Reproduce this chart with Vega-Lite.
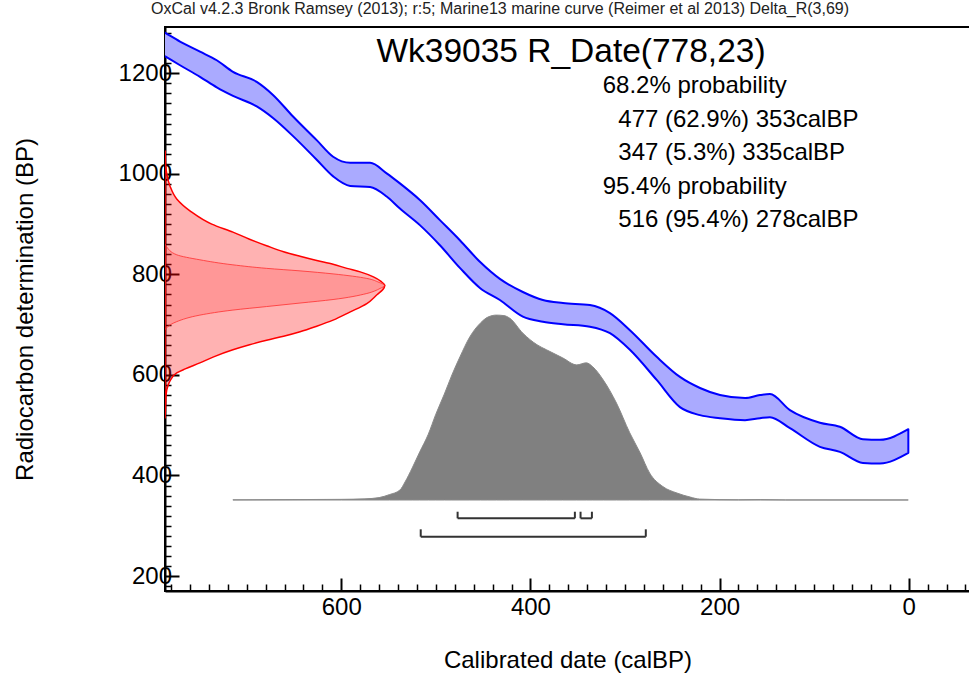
{
  "$schema": "https://vega.github.io/schema/vega-lite/v6.json",
  "width": 805,
  "height": 564,
  "autosize": {"type": "none"},
  "padding": {"left": 165, "top": 27, "right": 0, "bottom": 84},
  "background": "white",
  "title": {
    "text": "OxCal v4.2.3 Bronk Ramsey (2013); r:5; Marine13 marine curve (Reimer et al 2013) Delta_R(3,69)",
    "anchor": "start", "frame": "group", "font": "Liberation Sans Narrow, Liberation Sans", "fontSize": 16,
    "fontWeight": "normal", "color": "#222222", "offset": 4, "dx": -14
  },
  "config": {
    "view": {"stroke": "black", "strokeWidth": 2},
    "font": "Liberation Sans",
    "axis": {"labelFont": "Liberation Sans", "titleFont": "Liberation Sans", "zindex": 1},
    "text": {"font": "Liberation Sans", "color": "black", "align": "left", "baseline": "alphabetic", "fontSize": 24}
  },
  "datasets": {
    "curve": [
      {"cal": 800, "hi": 1296, "lo": 1249},
      {"cal": 785.7, "hi": 1280, "lo": 1233},
      {"cal": 770.5, "hi": 1263, "lo": 1216},
      {"cal": 749.4, "hi": 1243, "lo": 1193},
      {"cal": 731.7, "hi": 1226, "lo": 1172},
      {"cal": 714.5, "hi": 1203, "lo": 1155},
      {"cal": 689.4, "hi": 1183, "lo": 1134},
      {"cal": 672.2, "hi": 1157, "lo": 1111},
      {"cal": 651, "hi": 1114, "lo": 1075},
      {"cal": 626, "hi": 1067, "lo": 1028},
      {"cal": 608.6, "hi": 1034, "lo": 995},
      {"cal": 590.6, "hi": 1022, "lo": 976},
      {"cal": 569.5, "hi": 1022, "lo": 974},
      {"cal": 552, "hi": 1001, "lo": 955},
      {"cal": 538, "hi": 981, "lo": 931},
      {"cal": 516.9, "hi": 948, "lo": 898},
      {"cal": 495.7, "hi": 908, "lo": 858},
      {"cal": 474.6, "hi": 868, "lo": 813},
      {"cal": 453.4, "hi": 825, "lo": 773},
      {"cal": 432.3, "hi": 791, "lo": 749},
      {"cal": 408, "hi": 765, "lo": 716},
      {"cal": 386.8, "hi": 749, "lo": 706},
      {"cal": 365.6, "hi": 743, "lo": 701},
      {"cal": 337.1, "hi": 739, "lo": 696},
      {"cal": 315.9, "hi": 723, "lo": 683},
      {"cal": 294.8, "hi": 689, "lo": 650},
      {"cal": 266.5, "hi": 636, "lo": 590},
      {"cal": 241.9, "hi": 596, "lo": 536},
      {"cal": 220.7, "hi": 574, "lo": 520},
      {"cal": 199.6, "hi": 560, "lo": 514},
      {"cal": 173.1, "hi": 554, "lo": 510},
      {"cal": 157.3, "hi": 560, "lo": 514},
      {"cal": 146.7, "hi": 562, "lo": 516},
      {"cal": 125.6, "hi": 530, "lo": 494},
      {"cal": 93.9, "hi": 505, "lo": 457},
      {"cal": 72.8, "hi": 497, "lo": 447},
      {"cal": 48.4, "hi": 472, "lo": 425},
      {"cal": 30.4, "hi": 471, "lo": 424},
      {"cal": 0.4, "hi": 492, "lo": 445}
    ],
    "c14outer": [
      {"bp": 515, "cal": 786.3},
      {"bp": 537, "cal": 785.8},
      {"bp": 560, "cal": 785.3},
      {"bp": 580, "cal": 783},
      {"bp": 590, "cal": 780.5},
      {"bp": 604, "cal": 774},
      {"bp": 612, "cal": 765},
      {"bp": 624, "cal": 749.5},
      {"bp": 636, "cal": 735},
      {"bp": 650, "cal": 714.6},
      {"bp": 660, "cal": 697},
      {"bp": 669, "cal": 679},
      {"bp": 677, "cal": 661},
      {"bp": 686, "cal": 643.6},
      {"bp": 697, "cal": 626},
      {"bp": 709, "cal": 608.7},
      {"bp": 725, "cal": 591},
      {"bp": 742, "cal": 573},
      {"bp": 760, "cal": 562},
      {"bp": 770, "cal": 556},
      {"bp": 778, "cal": 554},
      {"bp": 786, "cal": 558},
      {"bp": 795, "cal": 566},
      {"bp": 805, "cal": 580},
      {"bp": 812, "cal": 594},
      {"bp": 820, "cal": 608.7},
      {"bp": 828, "cal": 627},
      {"bp": 836, "cal": 643.6},
      {"bp": 845, "cal": 661},
      {"bp": 857, "cal": 679},
      {"bp": 870, "cal": 697},
      {"bp": 884, "cal": 714.6},
      {"bp": 900, "cal": 737},
      {"bp": 925, "cal": 759},
      {"bp": 950, "cal": 774},
      {"bp": 975, "cal": 781},
      {"bp": 1000, "cal": 784.5},
      {"bp": 1020, "cal": 785.8},
      {"bp": 1045, "cal": 786.2}
    ],
    "c14inner": [
      {"bp": 690, "cal": 786.3},
      {"bp": 696, "cal": 783.5},
      {"bp": 706, "cal": 774},
      {"bp": 719, "cal": 749.5},
      {"bp": 729, "cal": 714.6},
      {"bp": 736, "cal": 679},
      {"bp": 743, "cal": 643.6},
      {"bp": 750, "cal": 608.7},
      {"bp": 762, "cal": 573},
      {"bp": 772, "cal": 559},
      {"bp": 778, "cal": 554},
      {"bp": 784, "cal": 560},
      {"bp": 792, "cal": 573},
      {"bp": 801, "cal": 608.7},
      {"bp": 807, "cal": 643.6},
      {"bp": 812, "cal": 679},
      {"bp": 819, "cal": 714.6},
      {"bp": 829, "cal": 749.5},
      {"bp": 839, "cal": 774},
      {"bp": 855, "cal": 784.7},
      {"bp": 860, "cal": 786.3}
    ],
    "post": [
      {"cal": 714.6, "bp": 351.5},
      {"cal": 650, "bp": 352},
      {"cal": 600, "bp": 352.5},
      {"cal": 575, "bp": 353.5},
      {"cal": 560, "bp": 356},
      {"cal": 549, "bp": 362},
      {"cal": 538, "bp": 371},
      {"cal": 532.6, "bp": 387},
      {"cal": 525, "bp": 415},
      {"cal": 517, "bp": 447},
      {"cal": 508, "bp": 482},
      {"cal": 500, "bp": 522},
      {"cal": 491, "bp": 562},
      {"cal": 483, "bp": 600},
      {"cal": 474.5, "bp": 636},
      {"cal": 464, "bp": 676},
      {"cal": 453, "bp": 703},
      {"cal": 445, "bp": 715},
      {"cal": 436, "bp": 719},
      {"cal": 428, "bp": 718},
      {"cal": 422, "bp": 713},
      {"cal": 408, "bp": 683},
      {"cal": 393, "bp": 660},
      {"cal": 383, "bp": 650},
      {"cal": 366, "bp": 634},
      {"cal": 351, "bp": 620},
      {"cal": 341, "bp": 624},
      {"cal": 334, "bp": 616},
      {"cal": 323, "bp": 590},
      {"cal": 309, "bp": 544},
      {"cal": 295, "bp": 485},
      {"cal": 284, "bp": 445},
      {"cal": 274, "bp": 405},
      {"cal": 260, "bp": 378},
      {"cal": 245, "bp": 365},
      {"cal": 231, "bp": 357},
      {"cal": 221, "bp": 353},
      {"cal": 180, "bp": 351.6},
      {"cal": 157, "bp": 352},
      {"cal": 130, "bp": 351.4},
      {"cal": 0.5, "bp": 351.3}
    ],
    "ranges": [
      {"prob": 68.2, "from": 477, "to": 353},
      {"prob": 68.2, "from": 347, "to": 335},
      {"prob": 95.4, "from": 516, "to": 278}
    ]
  },
  "layer": [
    {
      "data": {"name": "curve"},
      "mark": {"type": "area", "interpolate": "monotone", "fill": "#aaaaff", "stroke": "#0000ff", "strokeWidth": 2, "clip": true, "strokeJoin": "round"},
      "encoding": {
        "x": {
          "field": "cal", "type": "quantitative",
          "scale": {"domain": [786.4, -64.8], "nice": false, "zero": false},
          "axis": {
            "title": "Calibrated date (calBP)",
            "values": [-60,-40,-20,0,20,40,60,80,100,120,140,160,180,200,220,240,260,280,300,320,340,360,380,400,420,440,460,480,500,520,540,560,580,600,620,640,660,680,700,720,740,760,780],
            "tickCount": 200,
            "format": "d",
            "labelExpr": "datum.value % 200 === 0 ? datum.label : ''",
            "tickSize": {"condition": {"test": "datum.value % 200 === 0", "value": -13}, "value": -7},
            "tickWidth": {"condition": {"test": "datum.value % 200 === 0", "value": 2}, "value": 1.5},
            "tickColor": "black", "domainColor": "black", "domainWidth": 2,
            "labelFontSize": 24, "labelColor": "black", "labelPadding": 17, "labelOverlap": false, "labelFlush": false,
            "titleFontSize": 24, "titleFontWeight": "normal", "titleColor": "black", "titleY": 69, "titleBaseline": "middle",
            "grid": false
          }
        },
        "y": {
          "field": "hi", "type": "quantitative",
          "scale": {"domain": [170.2, 1292.1], "nice": false, "zero": false},
          "axis": {
            "title": "Radiocarbon determination (BP)",
            "values": [180,200,220,240,260,280,300,320,340,360,380,400,420,440,460,480,500,520,540,560,580,600,620,640,660,680,700,720,740,760,780,800,820,840,860,880,900,920,940,960,980,1000,1020,1040,1060,1080,1100,1120,1140,1160,1180,1200,1220,1240,1260,1280],
            "tickCount": 200,
            "format": "d",
            "labelExpr": "datum.value % 200 === 0 ? datum.label : ''",
            "tickSize": {"condition": {"test": "datum.value % 200 === 0", "value": -14}, "value": -6},
            "tickWidth": {"condition": {"test": "datum.value % 200 === 0", "value": 2}, "value": 1.5},
            "tickColor": "black", "domainColor": "black", "domainWidth": 2,
            "labelFontSize": 24, "labelColor": "black", "labelPadding": 7.5, "labelOverlap": false, "labelFlush": false,
            "titleFontSize": 24, "titleFontWeight": "normal", "titleColor": "black",
            "titleX": -140, "titleY": 282, "titleAngle": -90, "titleAlign": "center", "titleBaseline": "middle",
            "grid": false
          }
        },
        "y2": {"field": "lo"}
      }
    },
    {
      "data": {"name": "c14outer"},
      "mark": {"type": "area", "orient": "horizontal", "interpolate": "monotone", "fill": "#ff0000", "fillOpacity": 0.3, "stroke": "#ff0000", "strokeWidth": 1.5, "clip": true},
      "encoding": {
        "y": {"field": "bp", "type": "quantitative"},
        "x": {"field": "cal", "type": "quantitative"},
        "x2": {"datum": 786.4}
      }
    },
    {
      "data": {"name": "c14inner"},
      "mark": {"type": "area", "orient": "horizontal", "interpolate": "monotone", "fill": "#ff0000", "fillOpacity": 0.15, "stroke": "#ff3030", "strokeWidth": 1, "strokeOpacity": 0.8, "clip": true},
      "encoding": {
        "y": {"field": "bp", "type": "quantitative"},
        "x": {"field": "cal", "type": "quantitative"},
        "x2": {"datum": 786.4}
      }
    },
    {
      "data": {"name": "post"},
      "mark": {"type": "area", "interpolate": "monotone", "fill": "#808080", "stroke": "#8a8a8a", "strokeWidth": 1},
      "encoding": {
        "x": {"field": "cal", "type": "quantitative"},
        "y": {"field": "bp", "type": "quantitative"},
        "y2": {"datum": 351.2}
      }
    },
    {
      "data": {"name": "ranges"},
      "transform": [{"filter": "datum.prob == 68.2"}],
      "mark": {"type": "rule", "color": "#333333", "strokeWidth": 2},
      "encoding": {
        "x": {"field": "from", "type": "quantitative"},
        "x2": {"field": "to"},
        "y": {"datum": 314.8}
      }
    },
    {
      "data": {"name": "ranges"},
      "transform": [{"filter": "datum.prob == 68.2"}, {"fold": ["from", "to"], "as": ["end", "edge"]}],
      "mark": {"type": "rule", "color": "#333333", "strokeWidth": 2},
      "encoding": {
        "x": {"field": "edge", "type": "quantitative"},
        "y": {"datum": 314.8},
        "y2": {"datum": 327.9}
      }
    },
    {
      "data": {"name": "ranges"},
      "transform": [{"filter": "datum.prob == 95.4"}],
      "mark": {"type": "rule", "color": "#333333", "strokeWidth": 2},
      "encoding": {
        "x": {"field": "from", "type": "quantitative"},
        "x2": {"field": "to"},
        "y": {"datum": 278.2}
      }
    },
    {
      "data": {"name": "ranges"},
      "transform": [{"filter": "datum.prob == 95.4"}, {"fold": ["from", "to"], "as": ["end", "edge"]}],
      "mark": {"type": "rule", "color": "#333333", "strokeWidth": 2},
      "encoding": {
        "x": {"field": "edge", "type": "quantitative"},
        "y": {"datum": 278.2},
        "y2": {"datum": 292.9}
      }
    },
    {
      "data": {"values": [{"label": "Wk39035 R_Date(778,23)"}]},
      "mark": {"type": "text", "fontSize": 33.5, "align": "center"},
      "encoding": {"x": {"datum": 357.1}, "y": {"datum": 1222}, "text": {"field": "label"}}
    },
    {
      "data": {"values": [{"label": "68.2% probability"}]},
      "mark": {"type": "text"},
      "encoding": {"x": {"datum": 323.6}, "y": {"datum": 1160.2}, "text": {"field": "label"}}
    },
    {
      "data": {"values": [{"label": "477 (62.9%) 353calBP"}]},
      "mark": {"type": "text"},
      "encoding": {"x": {"datum": 307.1}, "y": {"datum": 1093.8}, "text": {"field": "label"}}
    },
    {
      "data": {"values": [{"label": "347 (5.3%) 335calBP"}]},
      "mark": {"type": "text"},
      "encoding": {"x": {"datum": 307.1}, "y": {"datum": 1027.5}, "text": {"field": "label"}}
    },
    {
      "data": {"values": [{"label": "95.4% probability"}]},
      "mark": {"type": "text"},
      "encoding": {"x": {"datum": 323.6}, "y": {"datum": 959.9}, "text": {"field": "label"}}
    },
    {
      "data": {"values": [{"label": "516 (95.4%) 278calBP"}]},
      "mark": {"type": "text"},
      "encoding": {"x": {"datum": 307.1}, "y": {"datum": 894.9}, "text": {"field": "label"}}
    }
  ]
}
